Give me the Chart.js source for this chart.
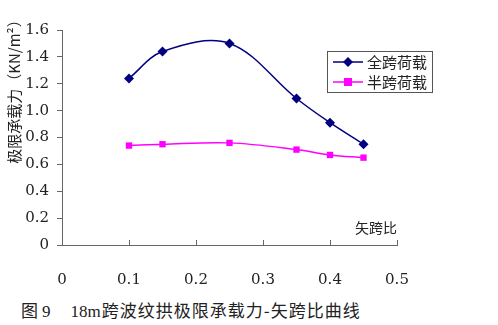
<!DOCTYPE html>
<html>
<head>
<meta charset="utf-8">
<script src="https://cdn.jsdelivr.net/npm/chart.js@4/dist/chart.umd.min.js"></script>
<style>
  body { margin: 0; background: #fff; }
  #wrap { position: relative; width: 498px; height: 325px; }
  #caption {
    position: absolute; left: 21px; top: 297px; line-height: 20px;
    font: 17px "Noto Sans CJK SC", sans-serif; color: #222; white-space: pre;
  }
  #caption .n { font: 17px "Liberation Serif", serif; margin-left: 4px; }
  #caption .n2 { margin-left: 20px; }
  #caption .t { margin-left: 1px; letter-spacing: 1px; }
</style>
</head>
<body>
<div id="wrap">
  <canvas id="chart" width="498" height="290"></canvas>
  <div id="caption">图<span class="n">9</span><span class="n n2">18m</span><span class="t">跨波纹拱极限承载力-矢跨比曲线</span></div>
</div>
<script>
const ratios = [0.1, 0.15, 0.25, 0.35, 0.4, 0.45];
const fullSpan = [1.24, 1.44, 1.50, 1.09, 0.91, 0.75];
const halfSpan = [0.74, 0.75, 0.76, 0.71, 0.67, 0.65];
const seriesNames = ["全跨荷载", "半跨荷载"];
const yTitle = "极限承载力（KN/m²）";
const xTitle = "矢跨比";

const cjk = '"Noto Sans CJK SC", sans-serif';
const num = '"DejaVu Serif", serif';
const axisColor = "#666";

const pts = (ys) => ratios.map((x, i) => ({ x, y: ys[i] }));

const extras = {
  id: "extras",
  afterDraw(chart) {
    const { ctx, chartArea: a, scales } = chart;
    ctx.save();
    // x tick marks pointing up
    ctx.strokeStyle = axisColor;
    ctx.lineWidth = 1;
    scales.x.ticks.forEach((t) => {
      const px = Math.round(scales.x.getPixelForValue(t.value)) + 0.5;
      ctx.beginPath();
      ctx.moveTo(px, a.bottom);
      ctx.lineTo(px, a.bottom - 5);
      ctx.stroke();
    });
    // axis titles
    ctx.fillStyle = "#222";
    ctx.font = "14px " + cjk;
    ctx.textAlign = "right";
    ctx.textBaseline = "middle";
    ctx.fillText(xTitle, a.right, 228);
    ctx.save();
    ctx.translate(14, 88);
    ctx.rotate(-Math.PI / 2);
    ctx.textAlign = "center";
    ctx.font = "15px " + cjk;
    ctx.fillText(yTitle, 0, 0);
    ctx.restore();
    // legend box
    const bx = 327, by = 51, bw = 105, bh = 41;
    ctx.fillStyle = "#fff";
    ctx.fillRect(bx, by, bw, bh);
    ctx.strokeStyle = "#555";
    ctx.strokeRect(bx + 0.5, by + 0.5, bw, bh);
    chart.data.datasets.forEach((ds, i) => {
      const cy = 62 + i * 20;
      ctx.strokeStyle = ds.borderColor;
      ctx.lineWidth = 1.5;
      ctx.beginPath();
      ctx.moveTo(333, cy);
      ctx.lineTo(363, cy);
      ctx.stroke();
      ctx.fillStyle = ds.backgroundColor;
      ctx.beginPath();
      if (ds.pointStyle === "rectRot") {
        const r = 5;
        ctx.moveTo(348, cy - r); ctx.lineTo(348 + r, cy);
        ctx.lineTo(348, cy + r); ctx.lineTo(348 - r, cy);
        ctx.closePath();
      } else {
        ctx.rect(344, cy - 4, 8, 8);
      }
      ctx.fill();
      ctx.fillStyle = "#222";
      ctx.font = "15px " + cjk;
      ctx.textAlign = "left";
      ctx.fillText(ds.label, 367, cy);
    });
    ctx.restore();
  }
};

new Chart(document.getElementById("chart"), {
  type: "line",
  data: {
    datasets: [
      {
        label: seriesNames[0], data: pts(fullSpan),
        borderColor: "#000080", backgroundColor: "#000080",
        borderWidth: 1.5, tension: 0.35,
        pointStyle: "rectRot", pointRadius: 5, pointBorderWidth: 0
      },
      {
        label: seriesNames[1], data: pts(halfSpan),
        borderColor: "#ff00ff", backgroundColor: "#ff00ff",
        borderWidth: 1.5, tension: 0.35,
        pointStyle: "rect", pointRadius: 4.5, pointBorderWidth: 0
      }
    ]
  },
  options: {
    responsive: false,
    animation: false,
    layout: { padding: { left: 0, top: 30, right: 101, bottom: 0 } },
    plugins: { legend: { display: false }, tooltip: { enabled: false } },
    scales: {
      x: {
        type: "linear", min: 0, max: 0.5,
        afterFit: (s) => { s.height = 45; },
        grid: { display: false },
        border: { display: true, color: axisColor },
        ticks: { stepSize: 0.1, padding: 18, color: "#222", font: { family: num, size: 15 } }
      },
      y: {
        min: 0, max: 1.6,
        afterFit: (s) => { s.width = 62; },
        grid: { drawOnChartArea: false, drawTicks: true, tickLength: 5, color: axisColor },
        border: { display: true, color: axisColor },
        ticks: { stepSize: 0.2, padding: 8, color: "#222", font: { family: num, size: 15 } }
      }
    }
  },
  plugins: [extras]
});
</script>
</body>
</html>
